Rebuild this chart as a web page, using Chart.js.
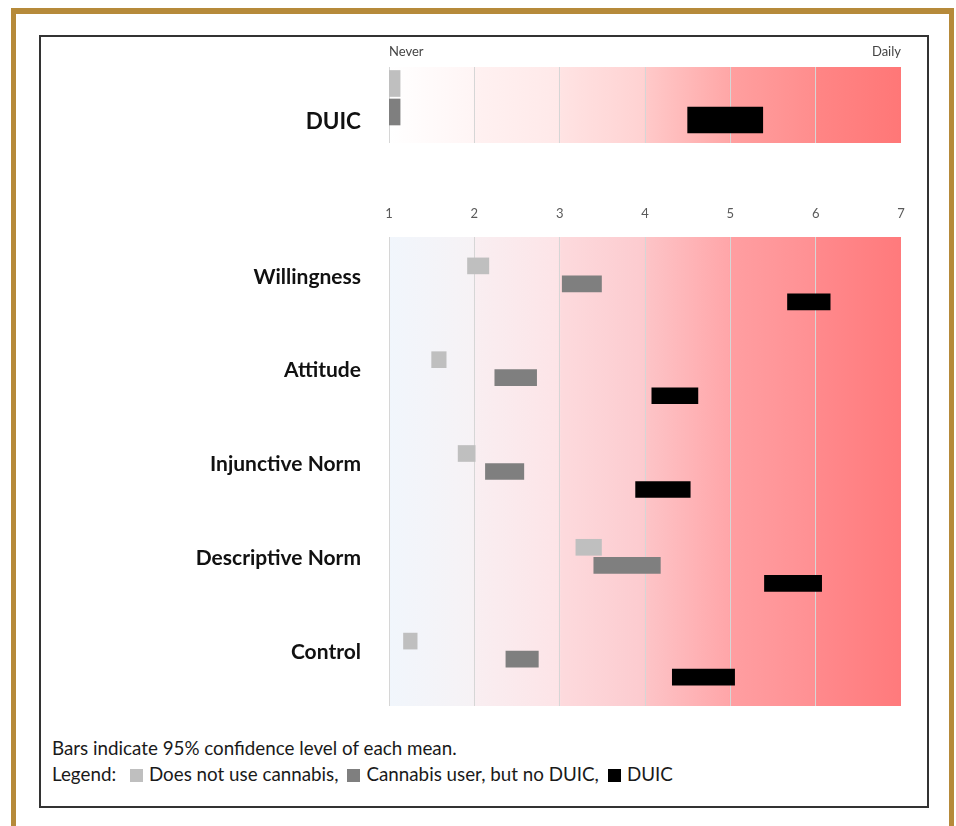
<!DOCTYPE html>
<html>
<head>
<meta charset="utf-8">
<script src="https://cdn.jsdelivr.net/npm/chart.js@4.4.1/dist/chart.umd.min.js"></script>
<style>
  html, body { margin: 0; padding: 0; background: #fff; width: 956px; height: 826px; overflow: hidden; }
  body { position: relative; font-family: Lato, "Open Sans", sans-serif; }
  #gold { position: absolute; left: 11px; top: 8px; width: 933px; height: 860px;
          border: 5px solid #b68a3a; border-top-width: 6px; border-bottom: none; }
  #frame { position: absolute; left: 39px; top: 35px; width: 886px; height: 769px; border: 2px solid #333; }
  canvas { position: absolute; left: 41px; }
  #topChart { top: 37px; }
  #mainChart { top: 180px; }
  #note { position: absolute; left: 52px; top: 735px; font-size: 18.8px; line-height: 26px; color: #1a1a1a; }
  .sw { display: inline-block; width: 13px; height: 13px; margin: 0 6px 0 9px; vertical-align: -1px; }
</style>
</head>
<body>
<div id="gold"></div>
<div id="frame"></div>
<canvas id="topChart" width="886" height="120"></canvas>
<canvas id="mainChart" width="886" height="545"></canvas>
<div id="note">
  <div id="noteLine">Bars indicate 95% confidence level of each mean.</div>
  <div id="legendLine"></div>
</div>
<script>
// Response scale (1 = Never ... 7 = Daily)
const scaleMin = 1;
const scaleMax = 7;
const endLabels = ['Never', 'Daily'];

// Groups of respondents
const groups = ['Does not use cannabis', 'Cannabis user, but no DUIC', 'DUIC'];

// Frequency of driving under the influence of cannabis: 95% CI [low, high]
const duicRow = ['DUIC'];
const duicNonUsers = [[1.00, 1.13]];
const duicUsersNoDuic = [[1.00, 1.13]];
const duicDrivers = [[4.50, 5.38]];

// Theory-of-planned-behaviour constructs: 95% CI [low, high]
const constructs = ['Willingness', 'Attitude', 'Injunctive Norm', 'Descriptive Norm', 'Control'];
const nonUsers = [[1.92, 2.17], [1.50, 1.67], [1.81, 2.01], [3.19, 3.49], [1.17, 1.33]];
const usersNoDuic = [[3.03, 3.49], [2.24, 2.73], [2.13, 2.58], [3.40, 4.18], [2.37, 2.75]];
const drivers = [[5.67, 6.17], [4.08, 4.62], [3.89, 4.53], [5.40, 6.07], [4.32, 5.05]];

const groupColors = ['#bfbfbf', '#7f7f7f', '#000000'];

// Shaded background running from "never" (pale) to "daily" (red), one band per scale step
const bandBackground = {
  id: 'bandBackground',
  beforeDraw(chart, args, opts) {
    const { ctx, chartArea: a, scales: { x } } = chart;
    const span = a.right - a.left;
    const g = ctx.createLinearGradient(a.left, 0, a.right, 0);
    opts.stops.forEach(([v, c]) => {
      const t = (x.getPixelForValue(v) - a.left) / span;
      g.addColorStop(Math.min(1, Math.max(0, t)), c);
    });
    ctx.save();
    ctx.fillStyle = g;
    ctx.fillRect(a.left, a.top, span, a.bottom - a.top);
    ctx.restore();
  }
};

function intervalChart(canvasId, rows, series, layout) {
  const datasets = series.map((vals, s) => ({
    label: groups[s],
    data: rows.map((r, i) => ({ y: i + layout.shifts[s], x: vals[i] })),
    backgroundColor: groupColors[s],
    borderWidth: 0,
    grouped: false,
    barThickness: layout.thickness
  }));
  return new Chart(document.getElementById(canvasId), {
    type: 'bar',
    data: { datasets },
    plugins: [bandBackground],
    options: {
      indexAxis: 'y',
      responsive: false,
      animation: false,
      events: [],
      layout: { padding: { left: 0, right: 26, top: 0, bottom: layout.bottomPad } },
      plugins: {
        legend: { display: false },
        tooltip: { enabled: false },
        bandBackground: { stops: layout.stops }
      },
      scales: {
        x: {
          type: 'linear',
          position: 'top',
          min: scaleMin,
          max: scaleMax,
          offset: false,
          afterFit: (scale) => {
            scale.height = layout.axisHeight;
            scale.paddingLeft = 0;
            scale.paddingRight = 0;
          },
          border: { display: false },
          grid: {
            drawTicks: false,
            lineWidth: 1,
            color: (ctx) => (ctx.tick && ctx.tick.value === scaleMax) ? 'rgba(0,0,0,0)' : '#d6d6d6'
          },
          ticks: {
            stepSize: 1,
            autoSkip: false,
            maxRotation: 0,
            padding: layout.tickPad,
            align: layout.tickAlign,
            color: layout.tickColor,
            font: { family: 'Lato', size: 13 },
            callback: layout.tickLabel
          }
        },
        y: {
          type: 'linear',
          min: 0,
          max: rows.length,
          reverse: true,
          offset: false,
          afterFit: (scale) => {
            scale.width = 348;
            scale.paddingTop = 0;
            scale.paddingBottom = 0;
          },
          afterBuildTicks: (scale) => {
            scale.ticks = rows.map((r, i) => ({ value: i + layout.labelPos }));
          },
          border: { display: false },
          grid: { display: false, drawTicks: false },
          ticks: {
            autoSkip: false,
            padding: 28,
            color: '#111',
            font: { family: 'Lato', size: layout.labelSize, weight: 'bold' },
            callback: (v, i) => rows[i]
          }
        }
      }
    }
  });
}

// Top panel: self-reported DUIC frequency
intervalChart('topChart', duicRow, [duicNonUsers, duicUsersNoDuic, duicDrivers], {
  shifts: [0.217, 0.592, 0.697],
  thickness: 26,
  labelPos: 0.72,
  labelSize: 22.5,
  axisHeight: 30,
  bottomPad: 14,
  tickPad: 7,
  tickAlign: 'inner',
  tickColor: '#444',
  tickLabel: (v) => (v === scaleMin ? endLabels[0] : v === scaleMax ? endLabels[1] : ''),
  stops: [
    [1, '#ffffff'], [1.98, '#fff5f5'], [2.02, '#fff1f1'],
    [2.98, '#ffe9e9'], [3.02, '#ffe3e3'], [3.98, '#ffd2d2'], [4.02, '#ffc9c9'],
    [4.98, '#ffa7a7'], [5.02, '#ff9f9f'], [5.98, '#ff8d8d'], [6.02, '#ff8585'], [7, '#ff7777']
  ]
});

// Bottom panel: constructs by group
intervalChart('mainChart', constructs, [nonUsers, usersNoDuic, drivers], {
  shifts: [0.5 - 0.192, 0.5, 0.5 + 0.192],
  thickness: 16,
  labelPos: 0.5 - 0.075,
  labelSize: 21,
  axisHeight: 57,
  bottomPad: 19,
  tickPad: 15,
  tickAlign: 'center',
  tickColor: '#5a5a5a',
  tickLabel: (v) => String(v),
  stops: [
    [1, '#f1f6fc'], [1.98, '#f6f2f5'], [2.02, '#f9eef1'],
    [2.98, '#fde4e7'], [3.02, '#fddadd'], [3.98, '#fccbcf'], [4.02, '#fdc4c7'],
    [4.98, '#ffa6a9'], [5.02, '#ff9ea1'], [5.98, '#ff9093'], [6.02, '#ff898c'], [7, '#ff7a7c']
  ]
});

// Legend line under the chart, built from the group names and colours
const legendLine = document.getElementById('legendLine');
legendLine.appendChild(document.createTextNode('Legend: '));
groups.forEach((g, i) => {
  const sw = document.createElement('span');
  sw.className = 'sw';
  sw.style.background = groupColors[i];
  legendLine.appendChild(sw);
  legendLine.appendChild(document.createTextNode(g + (i < groups.length - 1 ? ',' : '')));
});
</script>
</body>
</html>
